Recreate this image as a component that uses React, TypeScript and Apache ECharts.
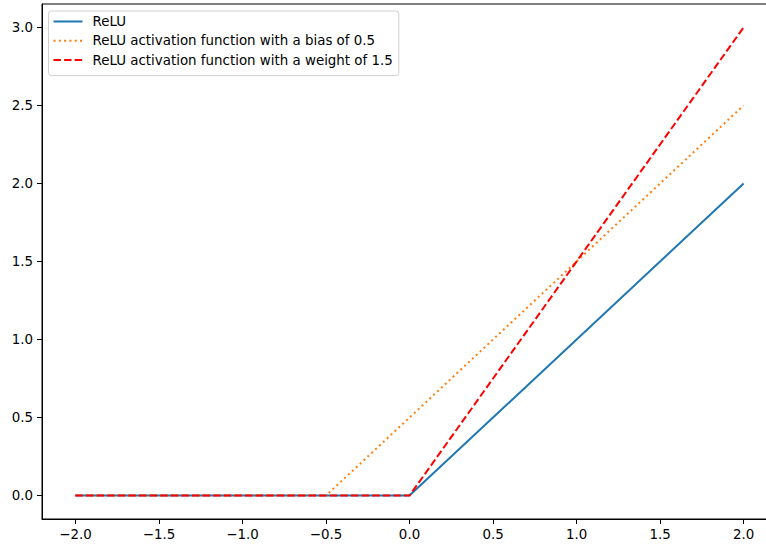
import React, { useEffect, useRef } from "react";
import * as echarts from "echarts";

const xValues = [-2, -0.5, 0, 2];
const reluValues = [0, 0, 0, 2];
const biasValues = [0, 0, 0.5, 2.5];
const weightValues = [0, 0, 0, 3];
const xTicks = [-2, -1.5, -1, -0.5, 0, 0.5, 1, 1.5, 2];
const yTicks = [0, 0.5, 1, 1.5, 2, 2.5, 3];
const seriesNames = [
  "ReLU",
  "ReLU activation function with a bias of 0.5",
  "ReLU activation function with a weight of 1.5",
];

const fmt = (v: number) => v.toFixed(1).replace("-", "\u2212");
const pairs = (ys: number[]) => xValues.map((x, i) => [x, ys[i]]);
const FONT = "DejaVu Sans";
const FS = 13.4;

export default function App() {
  const ref = useRef<HTMLDivElement>(null);
  useEffect(() => {
    if (!ref.current) return;
    const chart = echarts.init(ref.current, null, { renderer: "svg" });
    const axisCommon = {
      type: "value" as const,
      splitLine: { show: false },
      axisLine: { show: true, onZero: false, lineStyle: { color: "#000", width: 1 } },
      axisTick: { show: true, length: 5, lineStyle: { color: "#000", width: 1 } },
      axisLabel: {
        color: "#000",
        fontFamily: FONT,
        fontSize: FS,
        margin: 9,
        formatter: (v: number) => fmt(v),
      },
    };
    chart.setOption({
      animation: false,
      backgroundColor: "#fff",
      grid: {
        left: 42,
        top: 4,
        width: 735,
        height: 515,
        outerBoundsMode: "none",
        containLabel: false,
        show: true,
        borderColor: "#000",
        borderWidth: 1,
        backgroundColor: "transparent",
      },
      xAxis: {
        ...axisCommon,
        min: -2.2,
        max: 2.2,
        axisTick: { ...axisCommon.axisTick, customValues: xTicks },
        axisLabel: { ...axisCommon.axisLabel, customValues: xTicks },
      },
      yAxis: {
        ...axisCommon,
        min: -0.15,
        max: 3.15,
        axisTick: { ...axisCommon.axisTick, customValues: yTicks },
        axisLabel: { ...axisCommon.axisLabel, customValues: yTicks },
      },
      legend: {
        show: true,
        orient: "vertical",
        left: 48.5,
        top: 11,
        padding: [4, 6, 9, 4],
        itemWidth: 29,
        itemHeight: 14,
        itemGap: 6.3,
        backgroundColor: "#fff",
        borderColor: "#d0d0d0",
        borderWidth: 1,
        borderRadius: 3,
        itemStyle: { opacity: 0 },
        textStyle: { color: "#000", fontFamily: FONT, fontSize: FS, padding: [0, 0, 0, 5] },
        data: seriesNames,
      },
      series: [
        {
          name: seriesNames[0],
          type: "line",
          data: pairs(reluValues),
          symbol: "none",
          lineStyle: { color: "#1f77b4", width: 2 },
          itemStyle: { color: "#1f77b4" },
        },
        {
          name: seriesNames[1],
          type: "line",
          data: pairs(biasValues),
          symbol: "none",
          lineStyle: { color: "#ff7f0e", width: 2, type: [2, 3.3], cap: "butt" },
          itemStyle: { color: "#ff7f0e" },
        },
        {
          name: seriesNames[2],
          type: "line",
          data: pairs(weightValues),
          symbol: "none",
          lineStyle: { color: "#ff0000", width: 2, type: [7.4, 3.2], cap: "butt" },
          itemStyle: { color: "#ff0000" },
        },
      ],
    });
    return () => chart.dispose();
  }, []);
  return (
    <div
      ref={ref}
      style={{ position: "absolute", left: 0, top: 0, width: 766, height: 544 }}
    />
  );
}
